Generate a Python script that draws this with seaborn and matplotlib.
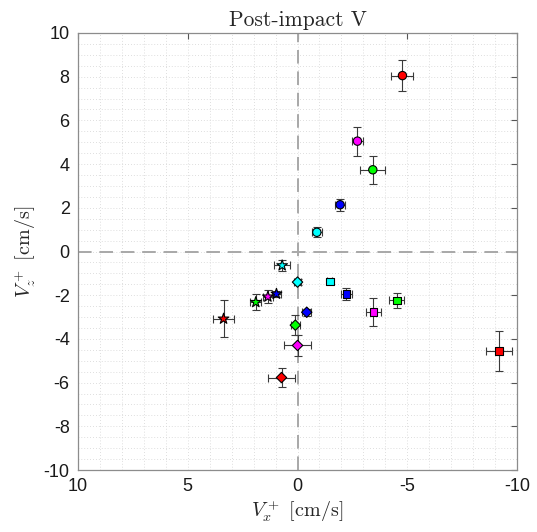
import matplotlib
matplotlib.use("Agg")
import matplotlib.pyplot as plt
import seaborn as sns
import pandas as pd
import numpy as np

# ---- data ----
colors_names = ["red", "magenta", "green", "blue", "cyan"]
palette = {"red": "#ff0000", "magenta": "#ff00ff", "green": "#00ff00",
           "blue": "#0000ff", "cyan": "#00ffff"}

circle_x = [-4.78, -2.73, -3.43, -1.94, -0.88]
circle_y = [8.05, 5.05, 3.74, 2.14, 0.88]
circle_xerr = [0.50, 0.26, 0.57, 0.21, 0.23]
circle_yerr = [0.70, 0.66, 0.63, 0.28, 0.23]

square_x = [-9.17, -3.46, -4.52, -2.23, -1.47]
square_y = [-4.55, -2.76, -2.24, -1.94, -1.37]
square_xerr = [0.60, 0.34, 0.34, 0.23, 0.12]
square_yerr = [0.90, 0.63, 0.34, 0.29, 0.12]

diamond_x = [0.73, 0.00, 0.10, -0.42, 0.00]
diamond_y = [-5.77, -4.30, -3.37, -2.78, -1.40]
diamond_xerr = [0.61, 0.62, 0.20, 0.20, 0.15]
diamond_yerr = [0.44, 0.48, 0.46, 0.15, 0.15]

star_x = [3.37, 1.35, 1.90, 0.96, 0.70]
star_y = [-3.08, -2.07, -2.32, -1.94, -0.64]
star_xerr = [0.49, 0.23, 0.25, 0.20, 0.35]
star_yerr = [0.85, 0.30, 0.36, 0.15, 0.27]

groups = {
    "circle": (circle_x, circle_y, circle_xerr, circle_yerr, "o"),
    "square": (square_x, square_y, square_xerr, square_yerr, "s"),
    "diamond": (diamond_x, diamond_y, diamond_xerr, diamond_yerr, "D"),
    "star": (star_x, star_y, star_xerr, star_yerr, "*"),
}

rows = []
for g, (xs, ys, xe, ye, m) in groups.items():
    for c, x, y, a, b in zip(colors_names, xs, ys, xe, ye):
        rows.append(dict(group=g, color=c, x=x, y=y, xerr=a, yerr=b))
df = pd.DataFrame(rows)

# ---- style ----
sns.set_style("white")
plt.rcParams["font.family"] = ["Liberation Sans", "DejaVu Sans"]
plt.rcParams["mathtext.fontset"] = "cm"

fig = plt.figure(figsize=(5.37, 5.32), dpi=100)
ax = fig.add_axes([0.1453, 0.1165, 0.8175, 0.8215])

# grid
ax.set_xticks(np.arange(-10, 11, 1), minor=True)
ax.set_yticks(np.arange(-10, 10.5, 0.5), minor=True)
ax.grid(which="minor", color="#d4d4d4", linestyle=(0, (1, 2.5)), linewidth=0.6)
ax.grid(which="major", color="#d4d4d4", linestyle=(0, (1, 2.5)), linewidth=0.6)
ax.set_axisbelow(True)

ax.axhline(0, color="#a8a8a8", linestyle=(0, (7, 4)), linewidth=1.4, zorder=1)
ax.axvline(0, color="#a8a8a8", linestyle=(0, (7, 4)), linewidth=1.4, zorder=1)

# error bars
ax.errorbar(df["x"], df["y"], xerr=df["xerr"], yerr=df["yerr"], fmt="none",
            ecolor="#3a3a3a", elinewidth=0.8, capsize=2.6, capthick=0.8, zorder=2)

# markers
sizes = {"circle": 36, "square": 30, "diamond": 28, "star": 65}
for g, (_, _, _, _, m) in groups.items():
    sub = df[df["group"] == g]
    sns.scatterplot(data=sub, x="x", y="y", hue="color", palette=palette,
                    marker=m, s=sizes[g], edgecolor="black", linewidth=0.8,
                    legend=False, ax=ax, zorder=3)

ax.set_xlim(10, -10)
ax.set_ylim(-10, 10)
ax.set_xticks([10, 5, 0, -5, -10])
ax.set_xticklabels(["10", "5", "0", "-5", "-10"])
ax.set_yticks(np.arange(-10, 11, 2))
ax.set_yticklabels([str(v) for v in range(-10, 11, 2)])
ax.tick_params(which="major", direction="in", length=4, width=0.8, color="#555555",
               top=True, right=True, labelsize=13, labelcolor="#1a1a1a", pad=6)
ax.tick_params(which="minor", length=0)

for s in ax.spines.values():
    s.set_color("#8c8c8c")
    s.set_linewidth(0.9)

ax.set_xlabel(r"$V_x^+$ [cm/s]", fontfamily="cmr10", fontsize=14.5, labelpad=2)
ax.set_ylabel(r"$V_z^+$ [cm/s]", fontfamily="cmr10", fontsize=14.5, labelpad=4)
ax.set_title("Post-impact V", fontfamily="cmr10", fontsize=15.5, pad=5)

fig.savefig("out.png", dpi=100)
